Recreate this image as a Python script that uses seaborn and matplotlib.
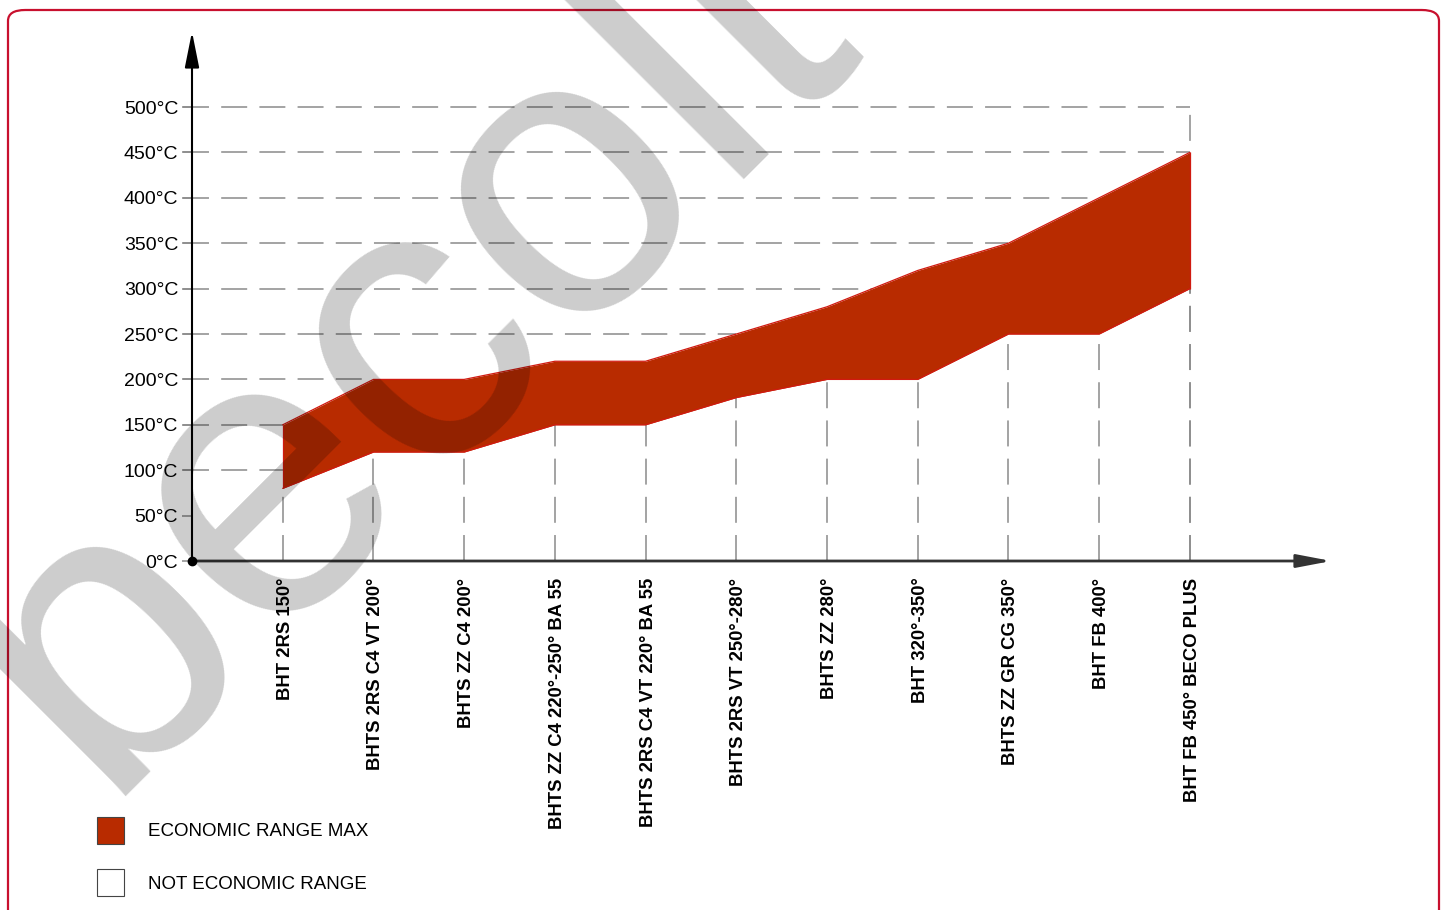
import numpy as np
import pandas as pd
import matplotlib
matplotlib.use("Agg")
import matplotlib.pyplot as plt
import matplotlib.transforms as mtransforms
from matplotlib.patches import Patch, FancyBboxPatch
import seaborn as sns

sns.set_theme(style="white")
plt.rcParams['font.family'] = ['Liberation Sans', 'DejaVu Sans']
plt.rcParams['text.color'] = 'black'
plt.rcParams['xtick.labelcolor'] = 'black'
plt.rcParams['ytick.labelcolor'] = 'black'

# --- data ---
bearings = ["BHT 2RS 150°", "BHTS 2RS C4 VT 200°", "BHTS ZZ C4 200°",
            "BHTS ZZ C4 220°-250° BA 55", "BHTS 2RS C4 VT 220° BA 55",
            "BHTS 2RS VT 250°-280°", "BHTS ZZ 280°", "BHT 320°-350°",
            "BHTS ZZ GR CG 350°", "BHT FB 400°", "BHT FB 450° BECO PLUS"]
temp_low = [80, 120, 120, 150, 150, 180, 200, 200, 250, 250, 300]
temp_high = [150, 200, 200, 220, 220, 250, 280, 320, 350, 400, 450]
y_ticks = [0, 50, 100, 150, 200, 250, 300, 350, 400, 450, 500]
y_labels = [f"{t}°C" for t in y_ticks]
legend_labels = ["ECONOMIC RANGE MAX", "NOT ECONOMIC RANGE"]

df = pd.DataFrame({'pos': np.arange(len(bearings)), 'bearing': bearings,
                   'low': temp_low, 'high': temp_high})

RED = "#B82B00"
EDGE = "#D01A10"
GRID = "#8a8a8a"

fig = plt.figure(figsize=(14.41, 9.10), dpi=100)
ax = fig.add_axes([192 / 1441, 1 - 561 / 910, (1335 - 192) / 1441, 526.6 / 910])
ax.set_xlim(-1, 11.6)
ax.set_ylim(0, 580)
for s in ax.spines.values():
    s.set_visible(False)

last = df['pos'].iloc[-1]
dash = (0, (17, 8))


# horizontal guide lines run from the y axis until they meet the band
def band_hit(level):
    hi = df['high'].to_numpy()
    i = int(np.argmax(hi >= level)) if (hi >= level).any() else len(hi)
    if i == 0:
        return 0.0
    if i == len(hi):
        return float(last)
    return (i - 1) + (level - hi[i - 1]) / (hi[i] - hi[i - 1])


for lvl in y_ticks[1:]:
    if lvl < df['low'].min():
        continue
    ax.hlines(lvl, -1.1, band_hit(lvl), colors=GRID, linestyles=dash, lw=1.1,
              zorder=1, clip_on=False)

# vertical guide lines up to the lower bound (last one up to the top)
ax.vlines(df['pos'], 0, df['low'], colors=GRID, linestyles=dash, lw=1.1, zorder=1)
ax.vlines([last], 0, y_ticks[-1], colors=GRID, linestyles=dash, lw=1.1, zorder=1)

# economic band
ax.fill_between(df['pos'], df['low'], df['high'], color=RED, lw=0, zorder=2)
sns.lineplot(data=df, x='pos', y='high', color=EDGE, lw=0.9, ax=ax, zorder=3)
sns.lineplot(data=df, x='pos', y='low', color=EDGE, lw=0.9, ax=ax, zorder=3)
ax.vlines([0, last], [temp_low[0], temp_low[-1]], [temp_high[0], temp_high[-1]],
          colors=EDGE, lw=0.9, zorder=3)

# axes with arrows
ax.annotate('', xy=(-1, 583), xytext=(-1, 0),
            arrowprops=dict(arrowstyle='-|>,head_length=1.1,head_width=0.22',
                            mutation_scale=20, color='black', lw=1.5,
                            shrinkA=0, shrinkB=0), annotation_clip=False, zorder=5)
ax.annotate('', xy=(11.56, 0), xytext=(-1, 0),
            arrowprops=dict(arrowstyle='-|>,head_length=1.05,head_width=0.2',
                            mutation_scale=20, color='#333333', lw=2,
                            shrinkA=0, shrinkB=0), annotation_clip=False, zorder=5)
ax.plot([-1], [0], 'o', color='black', ms=6, clip_on=False, zorder=6)

ax.set_yticks(y_ticks)
ax.set_yticklabels(y_labels, fontsize=14)
ax.tick_params(axis='y', length=7, color=GRID, width=1.1, pad=3, left=True)
ax.set_xticks(df['pos'])
ax.set_xticklabels(bearings, rotation=90, fontsize=13.3, fontweight='bold', va='top')
ax.tick_params(axis='x', length=0, pad=12)
shift = mtransforms.ScaledTranslation(2.5 / 100, 0, fig.dpi_scale_trans)
for lab in ax.get_xticklabels():
    lab.set_transform(lab.get_transform() + shift)
ax.set_xlabel('')
ax.set_ylabel('')

# legend
handles = [Patch(facecolor=RED, edgecolor='#444444', lw=0.8),
           Patch(facecolor='white', edgecolor='#444444', lw=0.8)]
fig.legend(handles, legend_labels, loc='upper left', bbox_to_anchor=(80 / 1441, 1 - 800 / 910),
           frameon=False, fontsize=13.5, handlelength=1.45, handleheight=1.85,
           handletextpad=1.25, labelspacing=1.35)

# rounded frame
fig.patches.append(FancyBboxPatch((8 / 1441, -0.05), (1431 / 1441), 1 - 10 / 910 + 0.05,
                                  boxstyle="round,pad=0,rounding_size=0.012",
                                  transform=fig.transFigure, fill=False,
                                  edgecolor="#C8102E", lw=1.6))

# watermark
fig.text(100 / 1441, 1 - 797 / 910, "becolt", rotation=45, rotation_mode='anchor',
         ha='left', va='baseline', fontsize=290, color='black', alpha=0.2, zorder=10)

fig.savefig("out.png", dpi=100)
